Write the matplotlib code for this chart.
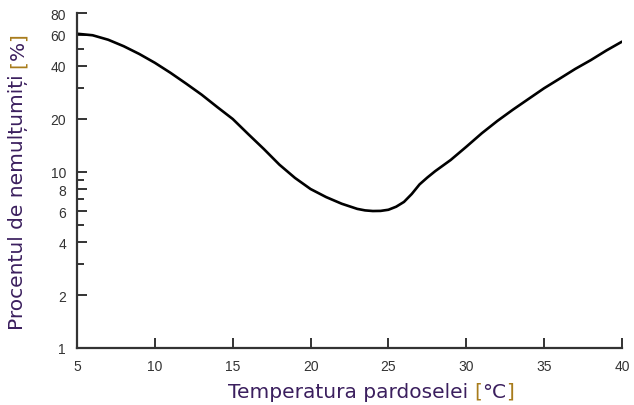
import matplotlib
matplotlib.use("Agg")
import matplotlib.pyplot as plt
from matplotlib.ticker import NullFormatter, NullLocator

# floor temperature [°C] vs percentage of people dissatisfied [%]
temp = [5, 6, 7, 8, 9, 10, 11, 12, 13, 14, 15, 16, 17, 18, 19, 20, 21, 22,
        23, 23.5, 24, 24.5, 25, 25.5, 26, 26.5, 27, 27.5, 28, 29, 30, 31,
        32, 33, 34, 35, 36, 37, 38, 39, 40]
ppd = [61, 59.8, 56.4, 51.8, 46.8, 41.7, 36.6, 31.8, 27.5, 23.4, 20.0, 16.4,
       13.5, 11.0, 9.25, 8.0, 7.2, 6.6, 6.17, 6.05, 6.0, 6.01, 6.1, 6.35,
       6.76, 7.5, 8.5, 9.3, 10.1, 11.7, 13.9, 16.6, 19.5, 22.6, 26.0, 29.9,
       33.9, 38.5, 43.2, 49.0, 55.0]

x_ticks = [5, 10, 15, 20, 25, 30, 35, 40]
y_major = [1, 2, 4, 6, 8, 10, 20, 40, 60, 80]
y_minor = [3, 5, 7, 9, 30, 50]

label_color = "#3b1f5e"
unit_color = "#a87c1c"
axis_color = "#333333"

fig = plt.figure(figsize=(6.34, 4.06), dpi=100)
ax = fig.add_axes([0.1215, 0.1404, 0.8595, 0.8251])

ax.plot(temp, ppd, color="black", linewidth=1.9, solid_capstyle="round",
        solid_joinstyle="round")

ax.set_yscale("log")
ax.set_xlim(5, 40)
ax.set_ylim(1, 80)

ax.set_xticks(x_ticks)
ax.set_xticklabels([str(t) for t in x_ticks])
ax.set_yticks(y_major)
ax.set_yticklabels([str(t) for t in y_major])
ax.set_yticks(y_minor, minor=True)
ax.yaxis.set_minor_formatter(NullFormatter())
ax.xaxis.set_minor_locator(NullLocator())

for side in ["top", "right"]:
    ax.spines[side].set_visible(False)
for side in ["left", "bottom"]:
    ax.spines[side].set_color(axis_color)
    ax.spines[side].set_linewidth(1.6)

ax.tick_params(axis="both", which="major", direction="in", length=7,
               width=1.4, color=axis_color, labelcolor="#333333")
ax.tick_params(axis="y", which="minor", direction="in", length=5,
               width=1.4, color=axis_color)
ax.tick_params(axis="x", pad=8)
ax.tick_params(axis="y", pad=8)
for lbl in ax.get_xticklabels() + ax.get_yticklabels():
    lbl.set_fontfamily("Liberation Sans")
    lbl.set_fontsize(10)


def unit_label(prev, pieces, rotation):
    # chain text pieces one after another, brackets in a different colour
    for text, color in pieces:
        if rotation:
            prev = ax.annotate(text, xy=(0.5, 1), xycoords=prev,
                               ha="center", va="bottom", rotation=90,
                               color=color, fontsize=14.5,
                               fontfamily="DejaVu Sans", annotation_clip=False)
        else:
            prev = ax.annotate(text, xy=(1, 0), xycoords=prev,
                               ha="left", va="bottom",
                               color=color, fontsize=14.5,
                               fontfamily="DejaVu Sans", annotation_clip=False)
    return prev


xlab = ax.text((228 - 77) / 545, -0.158, "Temperatura pardoselei ",
               transform=ax.transAxes, ha="left", va="bottom",
               color=label_color, fontsize=14.5, fontfamily="DejaVu Sans")
unit_label(xlab, [("[", unit_color), ("°C", label_color), ("]", unit_color)],
           False)

ylab = ax.text(-0.108, (349 - 330) / 335, "Procentul de nemulțumiți ",
               transform=ax.transAxes, ha="center", va="bottom", rotation=90,
               color=label_color, fontsize=14.5, fontfamily="DejaVu Sans")
unit_label(ylab, [("[", unit_color), ("%", label_color), ("]", unit_color)],
           True)

fig.savefig("out.png", dpi=100, facecolor="white")
